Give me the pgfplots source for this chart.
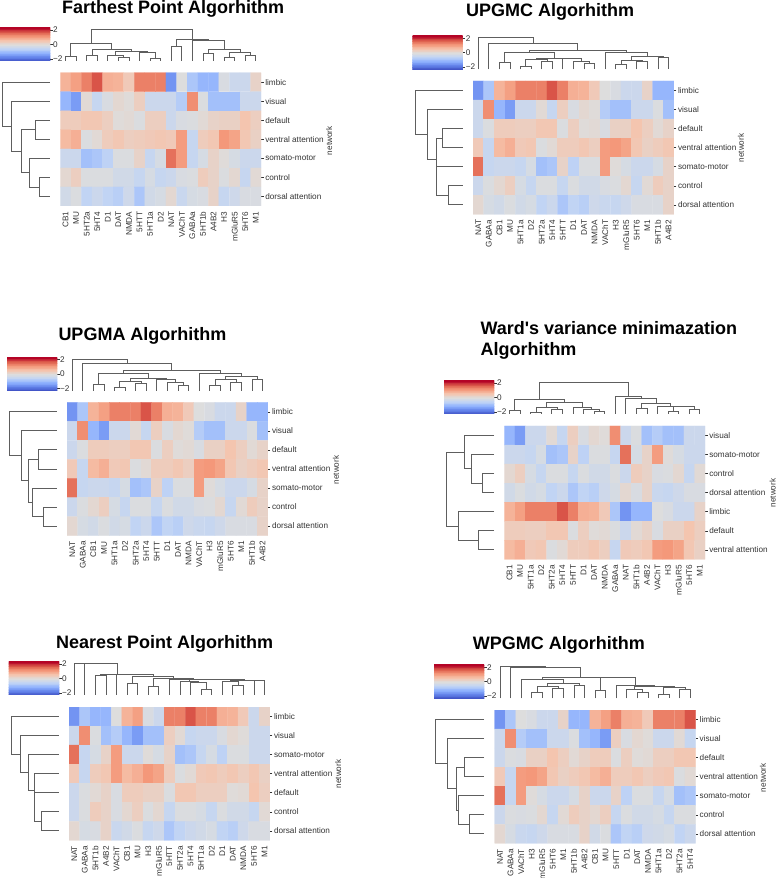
\documentclass[border=0pt]{standalone}
\usepackage{pgfplots}
\usepackage{pgfplotstable}
\usepackage{fontspec}
\setmainfont[Ligatures=TeXOff]{Liberation Sans}
\pgfplotsset{compat=1.18}
\pgfplotsset{colormap={coolwarm}{rgb255=(59,76,192) rgb255=(98,130,234) rgb255=(141,176,254) rgb255=(192,212,245) rgb255=(221,221,221) rgb255=(245,196,173) rgb255=(244,152,122) rgb255=(222,96,77) rgb255=(180,4,38)}}
\definecolor{txt}{HTML}{333333}
\definecolor{dg}{HTML}{5E5E5E}
\newcommand\lab{\fontsize{8.2}{10}\selectfont}
\pgfplotsset{dend/.style={draw=dg,line width=0.8pt,mark=none,forget plot,line join=miter}}
\pgfplotstableread{
net CB1 MU 5HT2a 5HT4 D1 DAT NMDA 5HTT 5HT1a D2 NAT VAChT GABAa 5HT1b A4B2 H3 mGluR5 5HT6 M1
limbic 0.8 1.05 1.4 1.8 0.85 0.8 0.45 1.4 1.4 1.4 -1.5 0 -0.8 -1.05 -1.05 -0.1 -0.35 -0.35 0.25
visual -1.05 -1.4 0.1 -0.45 -0.1 0.15 0.05 0.35 -0.35 -0.35 -0.35 -0.7 1.25 -0.05 -0.9 -0.9 -0.9 -0.35 -0.35
default 0.4 0.4 0.5 0.5 0.35 0.05 0.1 -0.05 0.35 0.35 -0.35 -0.1 -0.05 0.1 0.25 0.3 0.3 0.55 0.35
ventral 0.7 0.85 -0.05 0.1 0.4 0.5 0.35 0.4 0.45 0.5 0.45 1.1 -0.45 0.4 0.5 1.15 1.0 0.5 0.3
somato -0.35 -0.35 -0.9 -0.8 -0.6 -0.05 -0.05 0.25 -0.45 -0.15 1.55 1.1 -0.45 -0.15 0.25 0.05 -0.15 -0.35 -0.35
control 0.15 0.35 -0.05 -0.05 -0.05 -0.25 -0.25 -0.45 -0.15 -0.45 -0.35 -0.1 -0.05 0.4 0.25 -0.05 0.15 -0.45 0.1
dorsal -0.25 -0.05 -0.55 -0.35 -0.55 -0.65 -0.3 -0.8 -0.25 -0.15 0.15 -0.4 -0.15 -0.1 0.25 -0.45 -0.3 -0.1 -0.1
}\base
\newcommand\buildcells[2]{%
  \gdef\cells{}%
  \foreach \rr [count=\yi from 0] in {#2}{%
    \foreach \cc [count=\xi from 0] in {#1}{%
      \edef\tmp{\noexpand\pgfplotstablegetelem{\rr}{\cc}\noexpand\of\noexpand\base}\tmp
      \xdef\cells{\cells (\xi,\yi)[\pgfplotsretval]}%
    }%
  }%
}
\newcommand\Cb[5]{\addplot[dend] coordinates {(#1,#2)(#1,#5)(#3,#5)(#3,#4)};}
\newcommand\Rb[5]{\addplot[dend] coordinates {(#2,#1)(#5,#1)(#5,#3)(#4,#3)};}
% colour bar levels
\def\cbcells{(0,-2.3)(1,-2.3)(0,-2.2)(1,-2.2)(0,-2.1)(1,-2.1)(0,-2.0)(1,-2.0)(0,-1.9)(1,-1.9)(0,-1.8)(1,-1.8)(0,-1.7)(1,-1.7)(0,-1.6)(1,-1.6)(0,-1.5)(1,-1.5)(0,-1.4)(1,-1.4)(0,-1.3)(1,-1.3)(0,-1.2)(1,-1.2)(0,-1.1)(1,-1.1)(0,-1.0)(1,-1.0)(0,-0.9)(1,-0.9)(0,-0.8)(1,-0.8)(0,-0.7)(1,-0.7)(0,-0.6)(1,-0.6)(0,-0.5)(1,-0.5)(0,-0.4)(1,-0.4)(0,-0.3)(1,-0.3)(0,-0.2)(1,-0.2)(0,-0.1)(1,-0.1)(0,0)(1,0)(0,0.1)(1,0.1)(0,0.2)(1,0.2)(0,0.3)(1,0.3)(0,0.4)(1,0.4)(0,0.5)(1,0.5)(0,0.6)(1,0.6)(0,0.7)(1,0.7)(0,0.8)(1,0.8)(0,0.9)(1,0.9)(0,1.0)(1,1.0)(0,1.1)(1,1.1)(0,1.2)(1,1.2)(0,1.3)(1,1.3)(0,1.4)(1,1.4)(0,1.5)(1,1.5)(0,1.6)(1,1.6)(0,1.7)(1,1.7)(0,1.8)(1,1.8)(0,1.9)(1,1.9)(0,2.0)(1,2.0)(0,2.1)(1,2.1)(0,2.2)(1,2.2)(0,2.3)(1,2.3)}
% #1 heat x, #2 heat y(top), #3 cbar x, #4 cbar y(top), #5 net x, #6 net y, #7 cols, #8 rows, #9 row labels
\newcommand\panel[9]{%
  \buildcells{#7}{#8}%
  \pgfmathsetmacro\yH{878-#2}%
  \pgfmathsetmacro\yC{878-#4}%
  \pgfmathsetmacro\yN{878-#6}%
  \begin{axis}[at={(#1pt,\yH pt)},anchor=north west,width=200.8pt,height=133.3pt,scale only axis,
    y dir=reverse,xmin=-0.5,xmax=18.5,ymin=-0.5,ymax=6.5,
    colormap name=coolwarm,point meta min=-2.3,point meta max=2.3,
    xtick={0,...,18},ytick={0,...,6},xticklabels={#7},yticklabels={#9},yticklabel pos=right,
    axis line style={draw=none},tick align=outside,
    x tick style={draw=none},y tick style={draw=txt,line width=0.4pt},
    major tick length=2.5pt,xtick pos=bottom,ytick pos=right,xticklabel shift=3pt,
    xticklabel style={rotate=90,anchor=east,font=\lab,text=txt,inner sep=0pt},
    yticklabel style={font=\lab,text=txt,inner sep=0pt,xshift=1.5pt}]
    \edef\doplot{\noexpand\addplot[matrix plot*,shader=faceted,faceted color=mapped color,line width=0.2pt,mesh/cols=19,point meta=explicit] coordinates {\cells};}\doplot
  \end{axis}
  \begin{axis}[at={(#1pt,\yC pt)},anchor=north west,width=200.8pt,height=33.3pt,scale only axis,
    xmin=-0.5,xmax=18.5,ymin=0,ymax=100,hide axis,clip=false]
    \coltree
  \end{axis}
  \begin{axis}[at={(#3pt,\yH pt)},anchor=north west,width=50pt,height=133.3pt,scale only axis,
    x dir=reverse,y dir=reverse,xmin=0,xmax=150,ymin=-0.5,ymax=6.5,hide axis,clip=false]
    \rowtree
  \end{axis}
  \begin{axis}[at={(#3pt,\yC pt)},anchor=north west,width=50pt,height=33.3pt,scale only axis,
    xmin=0,xmax=1,ymin=-2.3,ymax=2.3,colormap name=coolwarm,point meta min=-2.3,point meta max=2.3,
    xtick=\empty,ytick={-2,0,2},yticklabels={−2,0,2},ytick pos=right,yticklabel pos=right,tick align=outside,
    axis line style={draw=none},y tick style={draw=txt,line width=0.4pt},major tick length=2.5pt,
    yticklabel style={font=\lab,text=txt,inner sep=0pt,xshift=0.5pt}]
    \edef\doplot{\noexpand\addplot[matrix plot*,shader=faceted,faceted color=mapped color,line width=0.3pt,mesh/cols=2,point meta=y] coordinates {\cbcells};}\doplot
  \end{axis}
  \node[rotate=90,font=\lab,text=txt,inner sep=0pt] at (#5pt,\yN pt) {network};
}
\newcommand\ttl[3]{\pgfmathsetmacro\yT{878-#2}\node[anchor=base west,inner sep=0pt,font=\fontsize{18}{21}\selectfont\bfseries,text=black] at (#1pt,\yT pt) {#3};}
\begin{document}
\begin{tikzpicture}
\path[use as bounding box] (0pt,0pt) rectangle (776pt,878pt);
\ttl{62}{13.3}{Farthest Point Algorhithm}
\ttl{466}{16.7}{UPGMC Algorhithm}
\ttl{58.3}{340.7}{UPGMA Algorhithm}
\ttl{480.3}{335}{Ward's variance minimazation}
\ttl{480.3}{356}{Algorhithm}
\ttl{56}{648.3}{Nearest Point Algorhithm}
\ttl{472.7}{650}{WPGMC Algorhithm}

% Farthest
\def\coltree{\Cb{0}{0}{1}{0}{13}\Cb{2}{0}{3}{0}{17}\Cb{5}{0}{6}{0}{11}\Cb{4}{0}{5.5}{11}{18}\Cb{8}{0}{9}{0}{7}\Cb{7}{0}{8.5}{7}{27}\Cb{4.75}{18}{7.75}{27}{28}\Cb{2.5}{17}{6.25}{28}{36}\Cb{0.5}{13}{4.375}{36}{53}\Cb{10}{0}{11}{0}{43}\Cb{13}{0}{14}{0}{23}\Cb{15}{0}{16}{0}{11}\Cb{17}{0}{18}{0}{18}\Cb{15.5}{11}{17.5}{18}{26}\Cb{13.5}{23}{16.5}{26}{35}\Cb{12}{0}{15}{35}{63}\Cb{10.5}{43}{13.5}{63}{66}\Cb{2.44}{53}{12}{66}{95}}
\def\rowtree{\Rb{2}{0}{3}{0}{45}\Rb{5}{0}{6}{0}{32}\Rb{4}{0}{5.5}{32}{63}\Rb{2.5}{45}{4.75}{63}{85}\Rb{1}{0}{3.625}{85}{117}\Rb{0}{0}{2.31}{117}{142}}
\panel{60.3}{72.7}{0}{27.7}{329.3}{140.7}{CB1,MU,5HT2a,5HT4,D1,DAT,NMDA,5HTT,5HT1a,D2,NAT,VAChT,GABAa,5HT1b,A4B2,H3,mGluR5,5HT6,M1}{0,1,2,3,4,5,6}{limbic,visual,default,ventral attention,somato-motor,control,dorsal attention}

% UPGMC
\def\coltree{\Cb{2}{0}{3}{0}{20}\Cb{4}{0}{5}{0}{9}\Cb{6}{0}{7}{0}{24}\Cb{4.5}{9}{6.5}{24}{30}\Cb{10}{0}{11}{0}{17}\Cb{9}{0}{10.5}{17}{24}\Cb{8}{0}{9.75}{24}{33}\Cb{5.5}{30}{8.875}{33}{34}\Cb{2.5}{20}{7.19}{34}{50}\Cb{13}{0}{14}{0}{16}\Cb{15}{0}{16}{0}{24}\Cb{13.5}{16}{15.5}{24}{28}\Cb{17}{0}{18}{0}{36}\Cb{14.5}{28}{17.5}{36}{38}\Cb{12}{0}{16}{38}{50}\Cb{4.84}{50}{14}{50}{56}\Cb{1}{0}{9.42}{56}{78}\Cb{0}{0}{5.21}{78}{95}}
\def\rowtree{\Rb{2}{0}{3}{0}{60}\Rb{5}{0}{6}{0}{42}\Rb{4}{0}{5.5}{42}{78}\Rb{2.5}{60}{4.75}{78}{80}\Rb{1}{0}{3.625}{80}{106}\Rb{0}{0}{2.31}{106}{143}}
\panel{473}{81}{412.7}{36}{741}{148}{NAT,GABAa,CB1,MU,5HT1a,D2,5HT2a,5HT4,5HTT,D1,DAT,NMDA,VAChT,H3,mGluR5,5HT6,M1,5HT1b,A4B2}{0,1,2,3,4,5,6}{limbic,visual,default,ventral attention,somato-motor,control,dorsal attention}

% UPGMA
\def\coltree{\Cb{2}{0}{3}{0}{18}\Cb{4}{0}{5}{0}{9}\Cb{6}{0}{7}{0}{22}\Cb{4.5}{9}{6.5}{22}{28}\Cb{10}{0}{11}{0}{16}\Cb{9}{0}{10.5}{16}{25}\Cb{8}{0}{9.75}{25}{34}\Cb{5.5}{28}{8.875}{34}{37}\Cb{2.5}{18}{7.19}{37}{52}\Cb{13}{0}{14}{0}{15}\Cb{15}{0}{16}{0}{25}\Cb{13.5}{15}{15.5}{25}{34}\Cb{17}{0}{18}{0}{33}\Cb{14.5}{34}{17.5}{33}{44}\Cb{12}{0}{16}{44}{52}\Cb{4.84}{52}{14}{52}{62}\Cb{1}{0}{9.42}{62}{82}\Cb{0}{0}{5.21}{82}{94}}
\def\rowtree{\Rb{2}{0}{3}{0}{56}\Rb{5}{0}{6}{0}{40}\Rb{4}{0}{5.5}{40}{74}\Rb{2.5}{56}{4.75}{74}{86}\Rb{1}{0}{3.625}{86}{108}\Rb{0}{0}{2.31}{108}{144}}
\panel{67}{402.3}{7}{357.3}{336}{470}{NAT,GABAa,CB1,MU,5HT1a,D2,5HT2a,5HT4,5HTT,D1,DAT,NMDA,VAChT,H3,mGluR5,5HT6,M1,5HT1b,A4B2}{0,1,2,3,4,5,6}{limbic,visual,default,ventral attention,somato-motor,control,dorsal attention}

% Ward
\def\coltree{\Cb{0}{0}{1}{0}{12}\Cb{2}{0}{3}{0}{4}\Cb{4}{0}{5}{0}{14}\Cb{2.5}{4}{4.5}{14}{21}\Cb{8}{0}{9}{0}{7}\Cb{7}{0}{8.5}{7}{15}\Cb{6}{0}{7.75}{15}{20}\Cb{3.5}{21}{6.875}{20}{35}\Cb{0.5}{12}{5.19}{35}{44}\Cb{15}{0}{16}{0}{7}\Cb{17}{0}{18}{0}{14}\Cb{15.5}{7}{17.5}{14}{22}\Cb{14}{0}{16.5}{22}{24}\Cb{12}{0}{13}{0}{17}\Cb{12.5}{17}{15.25}{24}{32}\Cb{11}{0}{13.875}{32}{47}\Cb{10}{0}{12.44}{47}{52}\Cb{2.84}{44}{11.22}{52}{95}}
\def\rowtree{\Rb{2}{0}{3}{0}{34}\Rb{1}{0}{2.5}{34}{67}\Rb{0}{0}{1.75}{67}{89}\Rb{5}{0}{6}{0}{47}\Rb{4}{0}{5.5}{47}{108}\Rb{0.875}{89}{4.75}{108}{144}}
\panel{504.3}{426}{444}{380.7}{772.7}{493}{CB1,MU,5HT1a,D2,5HT2a,5HT4,5HTT,D1,DAT,NMDA,GABAa,NAT,5HT1b,A4B2,VAChT,H3,mGluR5,5HT6,M1}{1,4,5,6,0,2,3}{visual,somato-motor,control,dorsal attention,limbic,default,ventral attention}

% Nearest
\def\coltree{\Cb{2}{0}{3}{0}{60}\Cb{5}{0}{6}{0}{35}\Cb{7}{0}{8}{0}{25}\Cb{12}{0}{13}{0}{17}\Cb{11}{0}{12.5}{17}{37}\Cb{10}{0}{11.75}{37}{40}\Cb{15}{0}{16}{0}{28}\Cb{14}{0}{15.5}{28}{40}\Cb{17}{0}{18}{0}{44}\Cb{14.75}{40}{17.5}{44}{45}\Cb{10.875}{40}{16.125}{45}{46}\Cb{9}{0}{13.5}{46}{47}\Cb{7.5}{25}{11.25}{47}{50}\Cb{5.5}{35}{9.375}{50}{57}\Cb{4}{0}{7.44}{57}{62}\Cb{2.5}{60}{5.72}{62}{63}\Cb{1}{0}{4.11}{63}{95}\Cb{0}{0}{2.555}{95}{95}}
\def\rowtree{\Rb{5}{0}{6}{0}{54}\Rb{4}{0}{5.5}{54}{74}\Rb{3}{0}{4.75}{74}{75}\Rb{2}{0}{3.875}{75}{92}\Rb{1}{0}{2.94}{92}{115}\Rb{0}{0}{1.97}{115}{144}}
\panel{69}{707}{9}{661.7}{338.3}{774}{NAT,GABAa,5HT1b,A4B2,VAChT,CB1,MU,H3,mGluR5,5HTT,5HT2a,5HT4,5HT1a,D2,D1,DAT,NMDA,5HT6,M1}{0,1,4,3,2,5,6}{limbic,visual,somato-motor,ventral attention,default,control,dorsal attention}

% WPGMC
\def\coltree{\Cb{3}{0}{4}{0}{17}\Cb{5}{0}{6}{0}{29}\Cb{3.5}{17}{5.5}{29}{37}\Cb{7}{0}{8}{0}{40}\Cb{4.5}{37}{7.5}{40}{45}\Cb{2}{0}{6}{45}{57}\Cb{9}{0}{10}{0}{25}\Cb{15}{0}{16}{0}{12}\Cb{17}{0}{18}{0}{27}\Cb{15.5}{12}{17.5}{27}{32}\Cb{13}{0}{14}{0}{19}\Cb{12}{0}{13.5}{19}{27}\Cb{12.75}{27}{16.5}{32}{35}\Cb{11}{0}{14.625}{35}{38}\Cb{9.5}{25}{12.81}{38}{63}\Cb{4}{57}{11.16}{63}{63}\Cb{1}{0}{7.58}{63}{94}\Cb{0}{0}{4.29}{94}{95}}
\def\rowtree{\Rb{2}{0}{3}{0}{59}\Rb{5}{0}{6}{0}{43}\Rb{4}{0}{5.5}{43}{77}\Rb{2.5}{59}{4.75}{77}{83}\Rb{1}{0}{3.625}{83}{109}\Rb{0}{0}{2.31}{109}{145}}
\panel{494.7}{710}{434}{665}{763}{777.7}{NAT,GABAa,VAChT,H3,mGluR5,5HT6,M1,5HT1b,A4B2,CB1,MU,5HTT,D1,DAT,NMDA,5HT1a,D2,5HT2a,5HT4}{0,1,2,3,4,5,6}{limbic,visual,default,ventral attention,somato-motor,control,dorsal attention}
\end{tikzpicture}
\end{document}
